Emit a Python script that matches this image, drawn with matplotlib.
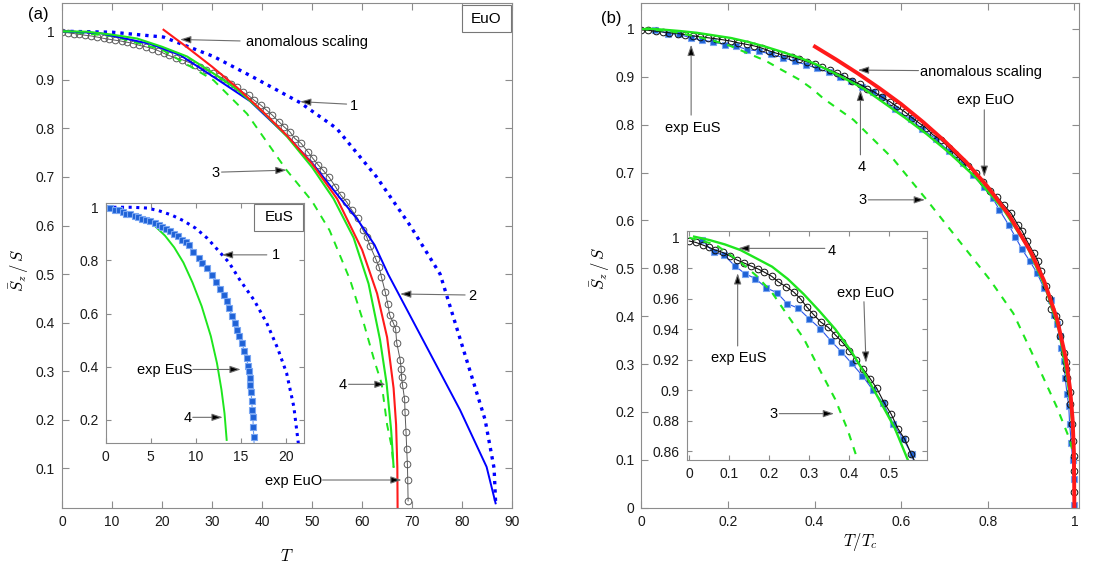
import numpy as np
import matplotlib
matplotlib.use('Agg')
import matplotlib.pyplot as plt
from matplotlib.patches import Rectangle
from matplotlib.ticker import FuncFormatter

plt.rcParams['font.family'] = ['Liberation Sans', 'DejaVu Sans']
plt.rcParams['mathtext.fontset'] = 'cm'

# experimental EuO (open circles), reduced temperature T/Tc
TC_EUO = 69.2
t_euo = [0.0, 0.0165, 0.034, 0.05, 0.065, 0.084, 0.101, 0.12, 0.136, 0.154,
         0.172, 0.187, 0.206, 0.223, 0.243, 0.261, 0.278, 0.294, 0.309, 0.329,
         0.347, 0.365, 0.383, 0.4, 0.417, 0.435, 0.453, 0.469, 0.487, 0.505,
         0.522, 0.539,
         0.555, 0.574, 0.59, 0.608, 0.626, 0.642, 0.658, 0.673, 0.691, 0.71,
         0.725, 0.741, 0.754, 0.772, 0.79, 0.806, 0.822, 0.837, 0.854, 0.87,
         0.88, 0.89, 0.906, 0.916, 0.923, 0.934, 0.941, 0.947, 0.957, 0.964,
         0.967, 0.977, 0.98, 0.981, 0.984, 0.99, 0.991, 0.994, 0.996, 0.998,
         0.999, 1.0]
s_euo = [0.9978, 0.9969, 0.9952, 0.9936, 0.9919, 0.9903, 0.9881, 0.9853, 0.9835, 0.9815,
         0.9795, 0.9775, 0.9747, 0.971, 0.9677, 0.9644, 0.96, 0.9545, 0.9501, 0.9446,
         0.9413, 0.9363, 0.9314, 0.9259, 0.9198, 0.9138, 0.9073, 0.9011, 0.8919, 0.8842,
         0.8747, 0.8677,
         0.858, 0.848, 0.838, 0.827, 0.814, 0.803, 0.793, 0.779, 0.769, 0.752,
         0.738, 0.724, 0.714, 0.699, 0.68, 0.662, 0.649, 0.632, 0.615, 0.59,
         0.577, 0.558, 0.532, 0.515, 0.494, 0.463, 0.439, 0.415, 0.4, 0.387,
         0.359, 0.324, 0.305, 0.289, 0.271, 0.242, 0.217, 0.175, 0.139, 0.108,
         0.076, 0.033]

# experimental EuS (squares), reduced temperature T/Tc
TC_EUS = 16.57
t_eus = [0.032, 0.061, 0.087, 0.114, 0.139, 0.165, 0.193, 0.219, 0.245, 0.272,
         0.3, 0.328, 0.355, 0.38, 0.406, 0.433, 0.459, 0.484, 0.51, 0.535, 0.556,
         0.586, 0.623, 0.648, 0.68, 0.711, 0.742, 0.766, 0.791, 0.811, 0.827,
         0.848, 0.864, 0.879, 0.897, 0.914, 0.93, 0.946, 0.954, 0.961, 0.967,
         0.97, 0.975, 0.979, 0.983, 0.987, 0.989, 0.993, 0.996, 0.998, 1.0]
s_eus = [0.9985, 0.9903, 0.9886, 0.9815, 0.9765, 0.9732, 0.967, 0.964, 0.9567, 0.9538,
         0.9468, 0.9402, 0.9321, 0.9253, 0.9176, 0.9095, 0.9, 0.8919, 0.878, 0.8681, 0.858,
         0.832, 0.811, 0.792, 0.77, 0.744, 0.719, 0.694, 0.669, 0.647, 0.622,
         0.591, 0.565, 0.54, 0.515, 0.49, 0.458, 0.433, 0.402, 0.383, 0.358,
         0.333, 0.307, 0.27, 0.238, 0.213, 0.175, 0.135, 0.1, 0.06, 0.005]

# panel (a): theory curves vs T
T_1 = [0, 10, 20.3, 30.3, 38.3, 47.6, 54.9, 62.9, 69.6, 75.6, 78.6, 81.6, 84.6, 86.4, 86.7]
S_1 = [1.0, 0.998, 0.988, 0.948, 0.905, 0.853, 0.8, 0.7, 0.6, 0.5, 0.4, 0.3, 0.2, 0.1, 0.03]
T_2 = [0, 7.6, 17.6, 23.6, 30.3, 37.6, 45.6, 50.3, 54.7, 59.1, 62.5, 65.2, 79.6, 84.9, 86.7]
S_2 = [1.0, 0.996, 0.974, 0.951, 0.906, 0.856, 0.778, 0.725, 0.668, 0.612, 0.56, 0.5, 0.22, 0.103, 0.028]
T_3 = [0, 10, 20, 23.6, 30.3, 37, 44.9, 50, 53.5, 57.6, 60.3, 62.5, 63.9, 65.0, 65.9, 66.3]
S_3 = [1.0, 0.99, 0.962, 0.94, 0.899, 0.83, 0.714, 0.65, 0.59, 0.488, 0.4, 0.32, 0.275, 0.19, 0.145, 0.103]
T_4 = [0, 5, 10, 15, 20, 25, 30, 35, 40, 45, 50, 54.3, 58.3, 61.3, 63.6, 64.9, 65.8, 66.3]
S_4 = [1.0, 0.999, 0.993, 0.985, 0.968, 0.948, 0.915, 0.88, 0.835, 0.783, 0.72, 0.655, 0.575, 0.48, 0.364, 0.275, 0.18, 0.103]
T_an = [20.3, 25, 30, 35, 40, 45, 50, 55, 60, 63, 65, 66.3, 66.8, 67.05, 67.1]
S_an = [1.003, 0.967, 0.927, 0.884, 0.836, 0.785, 0.727, 0.655, 0.55, 0.46, 0.37, 0.265, 0.19, 0.102, 0.02]

# inset (a): EuS theory vs T
T_1s = [0, 2.9, 4.6, 5.9, 7.3, 8.6, 10, 11.3, 12.7, 13.7, 14.9, 16.5, 17.9, 19.1, 20.1, 20.9, 21.4]
S_1s = [1.0, 1.0, 0.997, 0.987, 0.971, 0.95, 0.921, 0.883, 0.83, 0.792, 0.727, 0.65, 0.564, 0.47, 0.376, 0.25, 0.113]
T_4s = [0, 2.19, 3.88, 5.24, 6.59, 7.61, 8.63, 9.64, 10.66, 11.68, 12.36, 12.86, 13.2, 13.44]
S_4s = [1.0, 0.981, 0.962, 0.937, 0.893, 0.849, 0.792, 0.717, 0.628, 0.515, 0.414, 0.314, 0.225, 0.125]

# panel (b): theory curves vs T/Tc
t_3 = [0.0, 0.065, 0.128, 0.168, 0.207, 0.246, 0.286, 0.325, 0.365, 0.396, 0.42, 0.49,
       0.582, 0.659, 0.805, 0.859, 0.913, 0.959, 0.99, 1.0]
s_3 = [1.0, 0.9956, 0.984, 0.975, 0.964, 0.949, 0.934, 0.914, 0.894, 0.874, 0.855, 0.81,
       0.728, 0.643, 0.476, 0.406, 0.302, 0.211, 0.141, 0.1]
t_4 = [0.012, 0.05, 0.089, 0.128, 0.168, 0.207, 0.246, 0.286, 0.325, 0.365, 0.404, 0.443,
       0.483, 0.514, 0.55, 0.608, 0.658, 0.71, 0.772, 0.837, 0.89, 0.934, 0.964, 0.984,
       0.993, 0.998, 1.0]
s_4 = [1.0007, 0.9985, 0.9956, 0.9919, 0.9864, 0.981, 0.973, 0.963, 0.952, 0.94, 0.926, 0.909,
       0.89, 0.875, 0.852, 0.815, 0.781, 0.742, 0.69, 0.622, 0.548, 0.458, 0.372, 0.27,
       0.2, 0.14, 0.1]
t_an = [0.401, 0.45, 0.5, 0.55, 0.6, 0.65, 0.7, 0.75, 0.8, 0.85, 0.9, 0.93, 0.96, 0.98,
        0.99, 0.996, 0.999, 1.0]
s_an = [0.963, 0.936, 0.907, 0.876, 0.843, 0.806, 0.766, 0.722, 0.67, 0.61, 0.533, 0.474,
        0.394, 0.313, 0.249, 0.184, 0.114, 0.0]

BLUE = '#0000ff'
GREEN = '#1ee61e'
RED = '#ff1a1a'
SPINE = '#8c8c8c'
fmt = FuncFormatter(lambda v, p: '%g' % round(v, 4))


def style(ax, ticklen=5):
    for s in ax.spines.values():
        s.set_color(SPINE)
        s.set_linewidth(0.8)
    ax.tick_params(direction='in', top=True, right=True, length=ticklen, width=0.8,
                   color=SPINE, labelsize=10, labelcolor='#1a1a1a', pad=5)
    ax.xaxis.set_major_formatter(fmt)
    ax.yaxis.set_major_formatter(fmt)


def arrow(ax, xy_tail, xy_tip, text=None, xy_text=None, ha='left', va='center'):
    ax.annotate('', xy=xy_tip, xytext=xy_tail,
                arrowprops=dict(arrowstyle='-|>,head_length=0.65,head_width=0.22',
                                fc='black', ec='#6e6e6e', lw=0.8,
                                shrinkA=0, shrinkB=0, mutation_scale=10),
                zorder=6)
    if text:
        ax.text(xy_text[0], xy_text[1], text, ha=ha, va=va, fontsize=10.5, zorder=6)


def label_box(ax, x0, y0, x1, y1, text):
    ax.add_patch(Rectangle((x0, y0), x1 - x0, y1 - y0, transform=ax.transAxes,
                           fc='white', ec='#777777', lw=0.8, zorder=7, clip_on=False))
    ax.text((x0 + x1) / 2, (y0 + y1) / 2, text, transform=ax.transAxes,
            ha='center', va='center', fontsize=11, zorder=8)


fig = plt.figure(figsize=(11.14, 5.67), dpi=100)
ax_a = fig.add_axes([0.0557, 0.1046, 0.404, 0.890])
ax_b = fig.add_axes([0.5757, 0.1046, 0.393, 0.890])
ins_a = fig.add_axes([0.0949, 0.2182, 0.1783, 0.4233])
ins_b = fig.add_axes([0.6164, 0.1882, 0.2154, 0.4044])

# ---------------- panel (a)
T_exp_euo = np.array(t_euo) * TC_EUO
ax_a.plot(T_1, S_1, color=BLUE, lw=2.4, ls=(0, (1, 1.5)))
ax_a.plot(T_exp_euo, s_euo, '-o', color='#5a5a5a', lw=0.7, ms=4.8,
          mfc='none', mec='#5a5a5a', mew=0.7)
ax_a.plot(T_3, S_3, color=GREEN, lw=1.4, ls=(0, (4, 3.5)))
ax_a.plot(T_2, S_2, color=BLUE, lw=1.4)
ax_a.plot(T_4, S_4, color=GREEN, lw=1.5)
ax_a.plot(T_an, S_an, color=RED, lw=1.5)
ax_a.set_xlim(0, 90)
ax_a.set_ylim(0.019, 1.058)
ax_a.set_xticks(np.arange(0, 91, 10))
ax_a.set_yticks(np.arange(1, 11) / 10)
style(ax_a)
ax_a.set_xlabel('$T$', fontsize=12)
ax_a.set_ylabel(r'$\bar{S}_z\,/\,S$', fontsize=12)
ax_a.xaxis.set_label_coords(0.5, -0.08)
ax_a.yaxis.set_label_coords(-0.07, 0.47)

arrow(ax_a, (35.6, 0.980), (23.6, 0.983), 'anomalous scaling', (36.8, 0.977))
arrow(ax_a, (56.9, 0.850), (47.6, 0.855), '1', (57.6, 0.846))
arrow(ax_a, (31.9, 0.710), (44.9, 0.714), '3', (31.6, 0.708), ha='right')
arrow(ax_a, (80.6, 0.457), (67.6, 0.459), '2', (81.3, 0.455))
arrow(ax_a, (57.3, 0.273), (64.7, 0.273), '4', (57.0, 0.271), ha='right')
arrow(ax_a, (52.1, 0.076), (67.9, 0.076), 'exp EuO', (52.0, 0.074), ha='right')
label_box(ax_a, 0.888, 0.942, 0.998, 0.996, 'EuO')

# inset (a): EuS
ins_a.plot(T_1s, S_1s, color=BLUE, lw=2.2, ls=(0, (1, 1.5)))
ins_a.plot(T_4s, S_4s, color=GREEN, lw=1.4)
ins_a.plot(np.array(t_eus) * TC_EUS, s_eus, '-s', color='#6b9cf0', lw=0.8, ms=4.6,
           mfc='#1f62d6', mec='#7aa6f2', mew=0.8)
ins_a.set_xlim(0, 22.07)
ins_a.set_ylim(0.1124, 1.015)
ins_a.set_xticks([0, 5, 10, 15, 20])
ins_a.set_yticks([0.2, 0.4, 0.6, 0.8, 1.0])
style(ins_a, ticklen=3.5)
arrow(ins_a, (17.9, 0.821), (12.9, 0.821), '1', (18.5, 0.819))
arrow(ins_a, (9.67, 0.390), (15.0, 0.390), 'exp EuS', (9.6, 0.388), ha='right')
arrow(ins_a, (9.67, 0.210), (13.0, 0.210), '4', (9.6, 0.206), ha='right')
label_box(ins_a, 0.748, 0.885, 0.995, 0.997, 'EuS')

# ---------------- panel (b)
for ax in (ax_b, ins_b):
    ax.plot(t_eus, s_eus, '-s', color='#2a55e8', lw=0.8, ms=4.4,
            mfc='#1f62d6', mec='#7aa6f2', mew=0.8)
    ax.plot(t_euo, s_euo, '-o', color='#111111', lw=0.8, ms=4.8,
            mfc='none', mec='#111111', mew=0.7)
    ax.plot(t_3, s_3, color=GREEN, lw=1.5, ls=(0, (3.5, 3.5)))
    ax.plot(t_4, s_4, color=GREEN, lw=1.7)
ax_b.plot(t_an, s_an, color=RED, lw=2.8)

ax_b.set_xlim(0, 1.011)
ax_b.set_ylim(0, 1.054)
ax_b.set_xticks([0, 0.2, 0.4, 0.6, 0.8, 1.0])
ax_b.set_yticks(np.arange(0, 11) / 10)
style(ax_b)
ax_b.set_xlabel('$T/T_c$', fontsize=12)
ax_b.set_ylabel(r'$\bar{S}_z\,/\,S$', fontsize=12)
ax_b.xaxis.set_label_coords(0.5, -0.047)
ax_b.yaxis.set_label_coords(-0.067, 0.475)

arrow(ax_b, (0.115, 0.82), (0.115, 0.967), 'exp EuS', (0.118, 0.793), ha='center')
arrow(ax_b, (0.506, 0.737), (0.506, 0.873), '4', (0.508, 0.712), ha='center')
arrow(ax_b, (0.64, 0.913), (0.50, 0.914), 'anomalous scaling', (0.6436, 0.9095))
arrow(ax_b, (0.792, 0.831), (0.792, 0.691), 'exp EuO', (0.795, 0.852), ha='center')
arrow(ax_b, (0.524, 0.643), (0.655, 0.643), '3', (0.521, 0.643), ha='right')

# inset (b)
ins_b.set_xlim(-0.0065, 0.5935)
ins_b.set_ylim(0.854, 1.0044)
ins_b.set_xticks([0, 0.1, 0.2, 0.3, 0.4, 0.5])
ins_b.set_yticks([0.86, 0.88, 0.9, 0.92, 0.94, 0.96, 0.98, 1.0])
style(ins_b, ticklen=3.5)
arrow(ins_b, (0.339, 0.993), (0.1225, 0.993), '4', (0.346, 0.9915))
arrow(ins_b, (0.121, 0.929), (0.121, 0.9767), 'exp EuS', (0.124, 0.921), ha='center')
arrow(ins_b, (0.4368, 0.958), (0.4418, 0.918), 'exp EuO', (0.4418, 0.9637), ha='center')
arrow(ins_b, (0.225, 0.8846), (0.362, 0.8846), '3', (0.222, 0.8846), ha='right')

fig.text(38 / 1114, 1 - 15 / 567, '(a)', ha='center', va='center', fontsize=12)
fig.text(611.7 / 1114, 1 - 18.3 / 567, '(b)', ha='center', va='center', fontsize=12)

fig.savefig('out.png', dpi=100)
